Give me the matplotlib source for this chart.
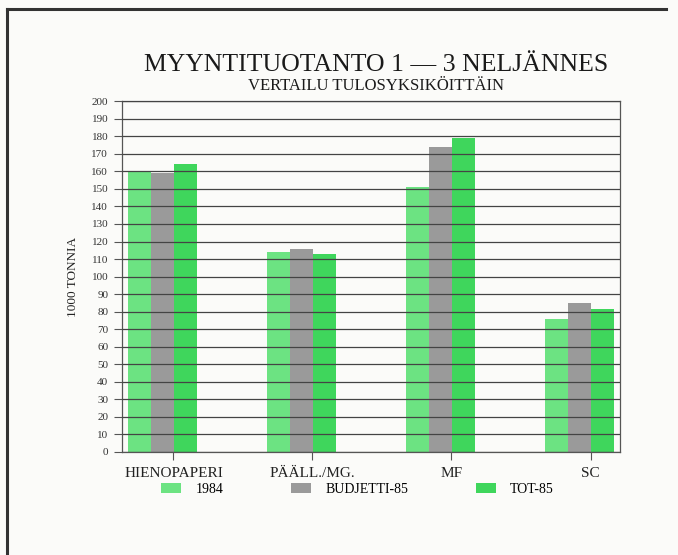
import matplotlib.pyplot as plt
import numpy as np
from matplotlib.patches import Patch
from matplotlib.lines import Line2D

# data (1000 tonnes)
categories = ["HIENOPAPERI", "PÄÄLL./MG.", "MF", "SC"]
series_names = ["1984", "BUDJETTI-85", "TOT-85"]
vals_1984 = [160, 114, 151, 76]
vals_budjetti = [159, 116, 174, 85]
vals_tot = [164, 113, 179, 81.5]
yticks = list(range(0, 201, 10))

colors = ["#6ce382", "#9a9a9a", "#3fd65c"]

plt.rcParams["font.family"] = ["Liberation Serif", "DejaVu Serif"]

fig = plt.figure(figsize=(6.78, 5.55), dpi=100)
fig.patch.set_facecolor("#fbfbf9")
ax = fig.add_axes([0.180, 0.1856, 0.734, 0.632])
ax.set_facecolor("#fbfbf9")

x = np.arange(len(categories))
w = 0.167
for i, (vals, c) in enumerate(zip([vals_1984, vals_budjetti, vals_tot], colors)):
    ax.bar(x + (i - 1) * w, vals, width=w, color=c, zorder=2, linewidth=0)

ax.set_xlim(-0.29, 3.29)
ax.set_ylim(0, 200)
ax.set_yticks(yticks)
ax.set_yticklabels([str(t) for t in yticks], fontsize=8, color="#333333")
ax.set_xticks(x + 0.08)
ax.set_xticklabels(categories, fontsize=11, color="#222222")
ax.tick_params(axis="y", length=6, width=0.8, color="#555555", pad=4)
ax.tick_params(axis="x", length=6, width=0.8, color="#555555", pad=5)
ax.yaxis.grid(True, color="#444444", linewidth=0.9, zorder=3)
ax.set_axisbelow(False)
for s in ax.spines.values():
    s.set_color("#555555")
    s.set_linewidth(0.9)
ax.set_ylabel("1000 TONNIA", fontsize=9.5, color="#222222", labelpad=9)

fig.text(0.555, 0.872, "MYYNTITUOTANTO 1 — 3 NELJÄNNES", ha="center",
         fontsize=18.5, color="#1a1a1a")
fig.text(0.555, 0.838, "VERTAILU TULOSYKSIKÖITTÄIN", ha="center",
         fontsize=12, color="#1a1a1a")

handles = [Patch(facecolor=c, edgecolor="none") for c in colors]
fig.legend(handles, series_names, loc="center", bbox_to_anchor=(0.527, 0.118),
           ncol=3, frameon=False, fontsize=10, handlelength=1.5,
           handleheight=0.7, handletextpad=1.0, columnspacing=4.85)

# frame lines of the page (left and top)
fig.add_artist(Line2D([0.011, 0.011], [0.0, 0.984], color="#333333", lw=2.2,
                      transform=fig.transFigure))
fig.add_artist(Line2D([0.011, 0.982], [0.984, 0.984], color="#333333", lw=2.2,
                      transform=fig.transFigure))

fig.savefig("out.png", dpi=100, facecolor=fig.get_facecolor())
